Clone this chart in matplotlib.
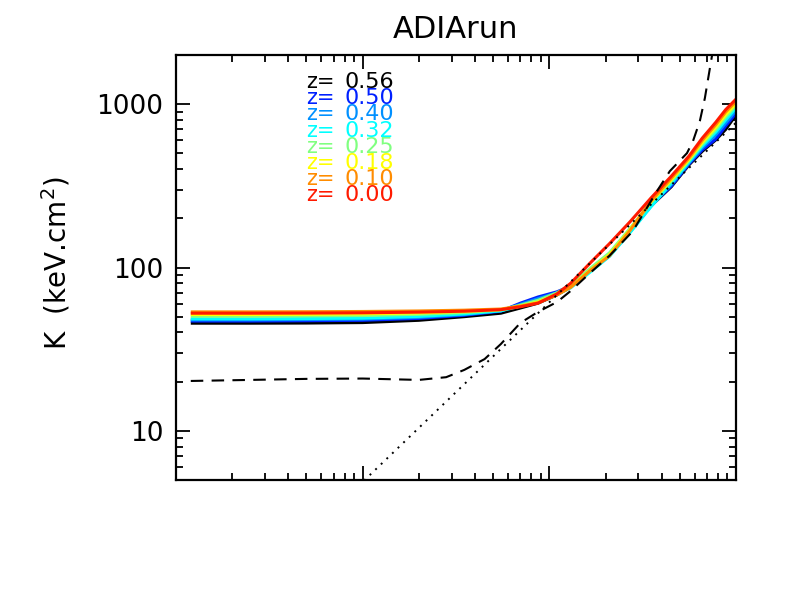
import matplotlib
matplotlib.use("Agg")
import matplotlib.pyplot as plt
import numpy as np

# radius grid (r/r500) shared by the profiles
r = [0.0012, 0.0025, 0.005, 0.01, 0.02, 0.035, 0.055, 0.07, 0.087, 0.11,
     0.13, 0.166, 0.21, 0.27, 0.35, 0.45, 0.56, 0.66, 0.78, 0.88, 1.0]

redshifts = ["0.56", "0.50", "0.40", "0.32", "0.25", "0.18", "0.10", "0.00"]
colors = ["#000000", "#0020ff", "#0090ff", "#00ffff", "#80ff80", "#ffff00",
          "#ff8c00", "#ff1a00"]

K_z056 = [45.6, 45.6, 45.7, 46.0, 47.5, 50.0, 52.5, 56.5, 60.5, 68.0,
          76.0, 96.0, 118, 166, 238, 312, 425, 515, 605, 700, 860]
K_z050 = [47.0, 47.0, 47.2, 47.5, 48.8, 51.0, 54.0, 60.5, 66.0, 71.0,
          77.0, 97.0, 119, 167, 240, 315, 430, 525, 612, 735, 880]
K_z040 = [47.8, 47.8, 48.0, 48.3, 49.5, 51.5, 54.3, 59.5, 64.5, 70.0,
          76.5, 96.0, 118, 165, 238, 322, 436, 540, 650, 765, 915]
K_z032 = [48.5, 48.5, 48.7, 49.0, 50.2, 52.0, 54.3, 58.0, 62.0, 68.5,
          75.0, 94.0, 117, 163, 235, 328, 443, 555, 675, 800, 950]
K_z025 = [50.3, 50.3, 50.5, 50.8, 51.7, 53.0, 55.0, 58.8, 63.0, 70.0,
          78.0, 99.0, 123, 173, 250, 338, 452, 570, 700, 835, 980]
K_z018 = [51.5, 51.5, 51.7, 52.0, 52.7, 53.8, 55.2, 58.0, 61.5, 68.5,
          76.0, 96.5, 120, 170, 252, 345, 460, 585, 725, 865, 1010]
K_z010 = [53.5, 53.5, 53.6, 53.8, 54.2, 54.8, 55.7, 58.0, 60.8, 68.0,
          75.5, 96.0, 118, 168, 255, 352, 468, 600, 750, 895, 1040]
K_z000 = [52.5, 52.5, 52.6, 52.8, 53.3, 54.0, 55.2, 57.5, 60.5, 69.0,
          80.0, 107, 140, 190, 266, 362, 481, 620, 776, 925, 1073]
profiles = [K_z056, K_z050, K_z040, K_z032, K_z025, K_z018, K_z010, K_z000]

# dashed reference profile
r_dash = [0.0012, 0.0025, 0.005, 0.01, 0.02, 0.028, 0.035, 0.045, 0.055, 0.07,
          0.087, 0.11, 0.13, 0.166, 0.21, 0.28, 0.377, 0.442, 0.546, 0.588,
          0.64, 0.681, 0.743, 0.75]
K_dash = [20.2, 20.5, 20.8, 20.9, 20.5, 21.3, 23.6, 27.5, 34.0, 45.8,
          53.5, 61.5, 71.8, 93.0, 118, 167, 293, 389, 501, 593,
          787, 1088, 1968, 2100]

# dotted baseline (power law, straight in log-log)
r_dot = [0.0095, 1.0]
K_dot = [4.6, 770]

fig = plt.figure(figsize=(7.86, 5.91), dpi=100)
ax = fig.add_axes([176 / 786, 111 / 591, 560 / 786, 425 / 591])

for K, c in zip(profiles, colors):
    ax.plot(r, K, color=c, lw=2.2, solid_capstyle="butt")

ax.plot(r_dash, K_dash, color="black", lw=1.5, dashes=(6, 4))
ax.plot(r_dot, K_dot, color="black", lw=1.4, dashes=(1, 3))

ax.set_xscale("log")
ax.set_yscale("log")
ax.set_xlim(1e-3, 1.0)
ax.set_ylim(5, 2000)

ax.set_yticks([10, 100, 1000])
ax.set_yticklabels(["10", "100", "1000"])
ax.xaxis.set_ticklabels([], minor=False)
ax.xaxis.set_ticklabels([], minor=True)
ax.tick_params(which="both", direction="in", top=True, right=True, width=1.3)
ax.tick_params(which="major", length=10, labelsize=19, pad=9)
ax.tick_params(which="minor", length=5)
for s in ax.spines.values():
    s.set_linewidth(1.6)

ax.set_title("ADIArun", fontsize=22, pad=12)
ax.set_ylabel(r"K  (keV.cm$^2$)", fontsize=20)
ax.yaxis.set_label_coords(-0.184, 0.51)

# redshift labels
y0 = 82
for i, (z, c) in enumerate(zip(redshifts, colors)):
    yy = 1 - (y0 + 16.2 * i) / 591
    fig.text(306 / 786, yy, "z=", color=c, fontsize=15, va="center")
    fig.text(345 / 786, yy, z, color=c, fontsize=16, va="center")

fig.savefig("out.png", dpi=100)
